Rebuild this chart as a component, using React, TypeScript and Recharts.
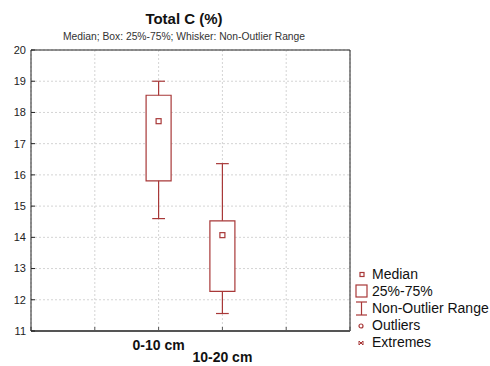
import { CartesianGrid, ComposedChart, ReferenceArea, ReferenceLine, Scatter, XAxis, YAxis } from "recharts"

const depths = ["0-10 cm", "10-20 cm"]
const medians = [17.72, 14.07]
const q1 = [15.81, 12.27]
const q3 = [18.55, 14.53]
const whiskerLow = [14.6, 11.56]
const whiskerHigh = [19.0, 16.36]
const yTicks = [11, 12, 13, 14, 15, 16, 17, 18, 19, 20]
const xTicks = [0, 1, 2, 3, 4, 5]

const legendItems = ["Median", "25%-75%", "Non-Outlier Range", "Outliers", "Extremes"]

const RED = "#a83838"
const FONT = "'Liberation Sans', Arial, sans-serif"

// boxes sit on the 3rd and 4th grid lines of a 0..5 axis
const rows = depths.map((depth, i) => ({
  x: i + 2,
  depth,
  median: medians[i],
  q1: q1[i],
  q3: q3[i],
  lo: whiskerLow[i],
  hi: whiskerHigh[i],
}))

const BOX_HALF = 0.196
const CAP_HALF = 0.1

function DepthTick(props: any) {
  const { x, y, payload } = props
  const i = rows.findIndex((r) => r.x === payload.value)
  if (i < 0) return null
  return (
    <text x={x} y={y + 21 + i * 12} textAnchor="middle" fontSize={14} fontWeight="bold" fill="#111" fontFamily={FONT}>
      {depths[i]}
    </text>
  )
}

function MedianMark(props: any) {
  const { cx, cy } = props
  return <rect x={cx - 2.5} y={cy - 2.5} width={5} height={5} fill="#fff" stroke={RED} strokeWidth={1.2} />
}

function LegendIcon({ i }: { i: number }) {
  if (i === 0) return <rect x={5} y={5.5} width={4} height={4} fill="none" stroke={RED} strokeWidth={1.2} />
  if (i === 1) return <rect x={1} y={1} width={11} height={12} fill="none" stroke={RED} strokeWidth={1.2} />
  if (i === 2)
    return (
      <g stroke={RED} strokeWidth={1.2}>
        <line x1={1} y1={1} x2={12} y2={1} />
        <line x1={6.5} y1={1} x2={6.5} y2={14} />
        <line x1={1} y1={14} x2={12} y2={14} />
      </g>
    )
  if (i === 3) return <circle cx={6} cy={8} r={2} fill="none" stroke={RED} strokeWidth={1.2} />
  return (
    <g stroke={RED} strokeWidth={1}>
      <line x1={4} y1={6} x2={8} y2={10} />
      <line x1={4} y1={10} x2={8} y2={6} />
      <line x1={4} y1={6} x2={4} y2={10} />
      <line x1={8} y1={6} x2={8} y2={10} />
    </g>
  )
}

export default function App() {
  return (
    <div style={{ position: "absolute", left: 0, top: 0, width: 490, height: 366, fontFamily: FONT, background: "#fff" }}>
      <div style={{ position: "absolute", left: 0, width: 368, top: 10, textAlign: "center", fontSize: 15, fontWeight: "bold", color: "#111" }}>
        Total C (%)
      </div>
      <div style={{ position: "absolute", left: 0, width: 368, top: 31, textAlign: "center", fontSize: 10.3, color: "#333" }}>
        Median; Box: 25%-75%; Whisker: Non-Outlier Range
      </div>
      <ComposedChart width={490} height={366} data={rows} margin={{ top: 50, right: 140, bottom: 0, left: 0 }}>
        <CartesianGrid stroke="#d4d4d4" strokeDasharray="2 2" />
        <XAxis
          type="number"
          dataKey="x"
          domain={[0, 5]}
          ticks={xTicks}
          height={35}
          tickSize={-4}
          tick={<DepthTick />}
          axisLine={{ stroke: "#555", strokeWidth: 2 }}
          tickLine={{ stroke: "#555" }}
          interval={0}
        />
        <YAxis
          type="number"
          domain={[11, 20]}
          ticks={yTicks}
          width={31}
          tickSize={-4}
          tickMargin={9}
          interval={0}
          tick={{ fontSize: 11, fill: "#222", fontFamily: FONT }}
          axisLine={{ stroke: "#222" }}
          tickLine={{ stroke: "#222" }}
        />
        <ReferenceLine y={20} stroke="#222" />
        <ReferenceLine x={5} stroke="#222" />
        {rows.map((r) => (
          <ReferenceLine key={"wh" + r.x} segment={[{ x: r.x, y: r.q3 }, { x: r.x, y: r.hi }]} stroke={RED} strokeWidth={1.2} />
        ))}
        {rows.map((r) => (
          <ReferenceLine key={"wl" + r.x} segment={[{ x: r.x, y: r.lo }, { x: r.x, y: r.q1 }]} stroke={RED} strokeWidth={1.2} />
        ))}
        {rows.map((r) => (
          <ReferenceLine key={"ch" + r.x} segment={[{ x: r.x - CAP_HALF, y: r.hi }, { x: r.x + CAP_HALF, y: r.hi }]} stroke={RED} strokeWidth={1.2} />
        ))}
        {rows.map((r) => (
          <ReferenceLine key={"cl" + r.x} segment={[{ x: r.x - CAP_HALF, y: r.lo }, { x: r.x + CAP_HALF, y: r.lo }]} stroke={RED} strokeWidth={1.2} />
        ))}
        {rows.map((r) => (
          <ReferenceArea
            key={"box" + r.x}
            x1={r.x - BOX_HALF}
            x2={r.x + BOX_HALF}
            y1={r.q1}
            y2={r.q3}
            fill="#fff"
            fillOpacity={1}
            stroke={RED}
            strokeWidth={1.2}
          />
        ))}
        <Scatter dataKey="median" shape={<MedianMark />} isAnimationActive={false} />
      </ComposedChart>
      <div style={{ position: "absolute", left: 355, top: 266 }}>
        {legendItems.map((label, i) => (
          <div key={label} style={{ display: "flex", alignItems: "center", height: 17, fontSize: 14, color: "#111", lineHeight: "17px" }}>
            <svg width={14} height={15} style={{ marginRight: 3 }}>
              <LegendIcon i={i} />
            </svg>
            {label}
          </div>
        ))}
      </div>
    </div>
  )
}
